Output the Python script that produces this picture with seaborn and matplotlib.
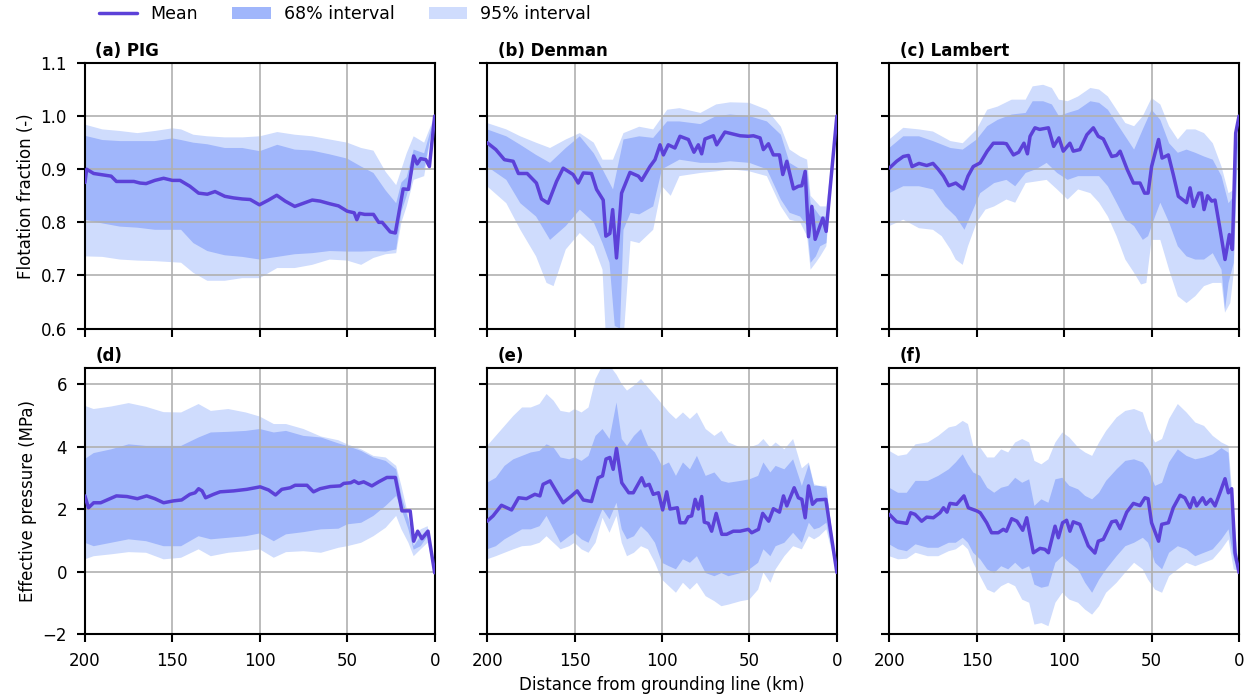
import numpy as np
import matplotlib
matplotlib.use("Agg")
import matplotlib.pyplot as plt
from matplotlib.lines import Line2D
from matplotlib.patches import Patch
import seaborn as sns

sns.set_style("ticks")
plt.rcParams['font.family'] = ['DejaVu Sans']
plt.rcParams['font.size'] = 12
for k in ['text.color', 'axes.labelcolor', 'xtick.color', 'ytick.color', 'axes.edgecolor']:
    plt.rcParams[k] = 'black'

# colours
col_mean = '#5c41d8'
col_68 = '#a0b6fb'
col_95 = '#cfdcfd'

titles = ['(a) PIG', '(b) Denman', '(c) Lambert', '(d)', '(e)', '(f)']
xticks = [200, 150, 100, 50, 0]

# ---------- (a) PIG, flotation fraction ----------
a_mean = [(200, 0.875), (199, 0.90), (195, 0.892), (185, 0.887), (182, 0.877), (172, 0.877),
          (168.5, 0.874), (165, 0.873), (160, 0.879), (155, 0.883), (150, 0.879), (145.6, 0.879),
          (140, 0.868), (135, 0.855), (130, 0.853), (125.6, 0.858), (120, 0.849), (115, 0.846),
          (110, 0.844), (105.5, 0.843), (100.2, 0.833), (95, 0.842), (90.3, 0.851), (85.5, 0.840),
          (80, 0.830), (75, 0.836), (70, 0.842), (65.5, 0.840), (60, 0.835), (55, 0.831),
          (50, 0.821), (46, 0.818), (44.5, 0.805), (43, 0.817), (40, 0.815), (35, 0.815),
          (32, 0.80), (30, 0.80), (25.4, 0.782), (22.5, 0.78), (18, 0.863), (15, 0.862),
          (12, 0.925), (10, 0.91), (8, 0.92), (5, 0.918), (3, 0.905), (0, 1.0)]
a_x = [200, 190, 180, 170, 160, 150, 145, 138, 130, 120, 110, 100, 90, 80, 70, 60, 50, 42,
       35, 28, 22, 19, 16, 12, 6, 0]
a_hi95 = [0.984, 0.975, 0.972, 0.968, 0.972, 0.977, 0.975, 0.965, 0.962, 0.96, 0.96, 0.962,
          0.97, 0.965, 0.962, 0.956, 0.95, 0.94, 0.935, 0.895, 0.87, 0.9, 0.93, 0.962, 0.95, 1.0]
a_hi68 = [0.963, 0.955, 0.953, 0.953, 0.953, 0.958, 0.955, 0.95, 0.947, 0.94, 0.94, 0.934,
          0.946, 0.937, 0.935, 0.928, 0.92, 0.905, 0.893, 0.86, 0.836, 0.875, 0.885, 0.937, 0.93, 1.0]
a_lo68 = [0.805, 0.798, 0.792, 0.79, 0.786, 0.786, 0.786, 0.761, 0.746, 0.738, 0.735, 0.73,
          0.735, 0.74, 0.742, 0.746, 0.745, 0.745, 0.746, 0.745, 0.749, 0.82, 0.85, 0.9, 0.9, 1.0]
a_lo95 = [0.736, 0.735, 0.73, 0.728, 0.727, 0.725, 0.724, 0.705, 0.69, 0.69, 0.695, 0.695,
          0.714, 0.714, 0.72, 0.73, 0.728, 0.72, 0.733, 0.74, 0.742, 0.8, 0.83, 0.88, 0.887, 1.0]

# ---------- (b) Denman, flotation fraction ----------
b_mean = [(200, 0.95), (195, 0.937), (190.1, 0.918), (185.1, 0.915), (182.1, 0.892), (177.1, 0.892),
          (171.8, 0.874), (168.9, 0.844), (165.1, 0.836), (160.3, 0.877), (156.5, 0.902),
          (150.8, 0.89), (147.9, 0.874), (145, 0.893), (140.3, 0.892), (137.4, 0.862),
          (133.6, 0.842), (132.1, 0.774), (129.8, 0.779), (128.2, 0.824), (126, 0.733),
          (123.1, 0.855), (118.3, 0.894), (113.5, 0.887), (111.6, 0.879), (106.9, 0.905),
          (104, 0.918), (101.1, 0.946), (99.2, 0.927), (96.4, 0.946), (92.6, 0.94), (89.7, 0.962),
          (84.9, 0.956), (81.7, 0.932), (79.2, 0.946), (77.3, 0.929), (75.4, 0.957), (70.6, 0.963),
          (68.7, 0.946), (64, 0.97), (55.3, 0.963), (50.6, 0.962), (47.7, 0.963), (43.9, 0.959),
          (42, 0.937), (39.1, 0.948), (36.3, 0.927), (32.8, 0.927), (30.9, 0.89), (28.6, 0.915),
          (24.8, 0.863), (22, 0.868), (20, 0.869), (18.1, 0.896), (16.2, 0.773), (14.3, 0.83),
          (12.4, 0.768), (8, 0.808), (6.1, 0.783), (0, 1.0)]
b_hi95 = [(200, 0.987), (189, 0.975), (181, 0.962), (172, 0.95), (164, 0.94), (155, 0.956),
          (147, 0.968), (139, 0.95), (134, 0.918), (128, 0.918), (122, 0.968), (113, 0.98),
          (105, 0.975), (97, 1.012), (90, 1.015), (78, 1.006), (69, 1.022), (61, 1.026),
          (50, 1.025), (40, 1.012), (32, 0.98), (27, 0.937), (21, 0.924), (17, 0.918),
          (15, 0.85), (9.5, 0.83), (6, 0.83), (0, 1.0)]
b_hi68 = [(200, 0.975), (189, 0.962), (181, 0.946), (172, 0.927), (164, 0.912), (155, 0.94),
          (147, 0.962), (139, 0.93), (134, 0.9), (128, 0.862), (122, 0.956), (113, 0.962),
          (105, 0.959), (97, 0.99), (90, 0.99), (78, 0.985), (69, 1.0), (61, 1.003),
          (50, 1.0), (40, 0.99), (32, 0.965), (27, 0.912), (21, 0.9), (17, 0.9),
          (15, 0.836), (9.5, 0.811), (6, 0.811), (0, 1.0)]
b_lo68 = [(200, 0.905), (189, 0.88), (181, 0.836), (172, 0.811), (164, 0.767), (155, 0.793),
          (147, 0.824), (139, 0.8), (134, 0.761), (130, 0.724), (127, 0.605), (124, 0.6),
          (122, 0.786), (118, 0.818), (113, 0.815), (105, 0.83), (100, 0.9), (90, 0.918),
          (78, 0.912), (69, 0.912), (61, 0.915), (50, 0.912), (40, 0.9), (32, 0.843),
          (27, 0.818), (21, 0.811), (17, 0.793), (15, 0.724), (12, 0.736), (9.5, 0.755),
          (6, 0.761), (0, 1.0)]
b_lo95 = [(200, 0.868), (189, 0.836), (181, 0.786), (172, 0.736), (166, 0.686), (162, 0.68),
          (155, 0.749), (147, 0.78), (139, 0.755), (134, 0.711), (132, 0.58), (122, 0.58),
          (118, 0.765), (113, 0.761), (105, 0.786), (100, 0.868), (95, 0.85), (90, 0.887),
          (78, 0.893), (69, 0.896), (61, 0.9), (50, 0.896), (40, 0.887), (32, 0.83),
          (27, 0.805), (21, 0.8), (17, 0.774), (15, 0.711), (12, 0.724), (9.5, 0.736),
          (6, 0.755), (0, 1.0)]

# ---------- (c) Lambert, flotation fraction ----------
c_mean = [(200, 0.902), (195.8, 0.915), (192, 0.924), (189, 0.926), (187, 0.905), (183, 0.911),
          (178.6, 0.907), (175, 0.911), (172, 0.9), (169, 0.887), (166, 0.869), (162, 0.874),
          (157.7, 0.863), (155, 0.887), (152, 0.905), (148, 0.912), (144, 0.934), (140.5, 0.949),
          (134.8, 0.949), (133, 0.948), (129, 0.927), (126, 0.932), (123, 0.949), (121, 0.929),
          (119.5, 0.962), (116.7, 0.978), (114, 0.975), (109, 0.978), (106, 0.943), (103, 0.959),
          (100.5, 0.934), (96.7, 0.949), (94.8, 0.934), (91, 0.937), (87, 0.965), (83.3, 0.978),
          (80.5, 0.962), (77.6, 0.957), (72.8, 0.924), (70, 0.926), (68, 0.934), (64, 0.9),
          (60.4, 0.874), (56.6, 0.874), (54, 0.855), (52, 0.855), (50, 0.905), (46, 0.956),
          (44, 0.921), (40.4, 0.927), (37.6, 0.89), (34.7, 0.849), (30, 0.837), (28, 0.865),
          (26, 0.83), (23, 0.855), (21.4, 0.855), (20, 0.824), (18, 0.85), (15.6, 0.84),
          (13.7, 0.842), (11, 0.79), (8, 0.73), (5.5, 0.777), (3.8, 0.749), (1.9, 0.968), (0, 1.0)]
c_hi95 = [(200, 0.956), (192, 0.978), (183, 0.975), (175, 0.971), (165, 0.953), (158, 0.949),
          (150, 0.975), (144, 1.012), (138, 1.018), (130, 1.031), (122, 1.031), (118, 1.056),
          (112, 1.059), (107, 1.053), (103, 1.031), (98, 1.028), (92, 1.037), (85, 1.053),
          (80, 1.05), (75, 1.037), (70, 1.012), (65, 0.987), (60, 0.981), (55, 1.0), (50, 1.034),
          (45, 1.022), (40, 0.981), (35, 0.956), (30, 0.975), (25, 0.975), (20, 0.968),
          (15, 0.949), (10, 0.905), (6, 0.855), (3, 0.861), (0, 1.0)]
c_hi68 = [(200, 0.94), (192, 0.962), (183, 0.962), (175, 0.953), (165, 0.94), (158, 0.937),
          (150, 0.956), (144, 0.981), (138, 0.993), (130, 1.003), (122, 1.006), (118, 1.028),
          (112, 1.028), (107, 1.022), (103, 1.0), (98, 1.006), (92, 1.012), (85, 1.028),
          (80, 1.025), (75, 1.012), (70, 0.987), (65, 0.962), (60, 0.937), (55, 0.975),
          (50, 1.012), (45, 0.993), (40, 0.949), (35, 0.931), (30, 0.937), (25, 0.931),
          (20, 0.924), (15, 0.918), (10, 0.887), (6, 0.836), (3, 0.849), (0, 1.0)]
c_lo68 = [(200, 0.855), (192, 0.868), (183, 0.868), (175, 0.862), (168, 0.83), (162, 0.811),
          (157, 0.786), (152, 0.824), (148, 0.855), (140, 0.874), (133, 0.88), (128, 0.868),
          (122, 0.893), (116, 0.9), (110, 0.912), (104, 0.893), (98, 0.88), (92, 0.887),
          (85, 0.887), (80, 0.887), (75, 0.868), (70, 0.837), (65, 0.805), (60, 0.793),
          (55, 0.767), (52, 0.774), (48, 0.811), (45, 0.837), (40, 0.8), (35, 0.755), (30, 0.736),
          (25, 0.73), (20, 0.73), (15, 0.742), (10, 0.711), (8, 0.636), (6, 0.686), (3, 0.724),
          (0, 1.0)]
c_lo95 = [(200, 0.793), (192, 0.805), (183, 0.789), (175, 0.786), (170, 0.774), (165, 0.749),
          (162, 0.73), (158, 0.72), (155, 0.755), (150, 0.8), (145, 0.824), (140, 0.83),
          (133, 0.843), (128, 0.837), (122, 0.874), (116, 0.877), (110, 0.88), (104, 0.862),
          (98, 0.843), (92, 0.862), (85, 0.855), (80, 0.837), (75, 0.811), (70, 0.774),
          (65, 0.73), (60, 0.705), (56, 0.683), (53, 0.686), (50, 0.767), (45, 0.767), (40, 0.711),
          (35, 0.661), (30, 0.648), (25, 0.661), (20, 0.68), (15, 0.686), (10, 0.686), (8, 0.63),
          (5, 0.648), (3, 0.705), (0, 1.0)]

# ---------- (d) PIG, effective pressure ----------
d_mean = [(200, 2.42), (198, 2.04), (195, 2.2), (191, 2.2), (185.7, 2.33), (182, 2.42), (176, 2.4),
          (170, 2.33), (164.7, 2.42), (160, 2.33), (155, 2.2), (149.4, 2.26), (144.7, 2.29),
          (140, 2.47), (137, 2.52), (135, 2.65), (133, 2.58), (131, 2.36), (126.5, 2.47),
          (122.7, 2.55), (115, 2.58), (107.4, 2.63), (99.8, 2.71), (95, 2.61), (91, 2.45),
          (87.4, 2.63), (82.6, 2.68), (79.8, 2.76), (73, 2.76), (69.3, 2.55), (65.5, 2.65),
          (59.7, 2.72), (54, 2.74), (52, 2.82), (48, 2.84), (46, 2.9), (43.5, 2.82), (40.6, 2.87),
          (35.9, 2.74), (32, 2.87), (27.3, 3.01), (22.5, 3.01), (18.7, 1.94), (14, 1.94),
          (12, 0.97), (9.7, 1.29), (7.3, 1.05), (3.8, 1.29), (0, -0.04)]
d_x = [200, 195, 185, 175, 165, 155, 145, 135, 128, 118, 108, 100, 92, 85, 75, 65, 55, 50,
       42, 35, 28, 22, 19, 15, 12, 8, 4, 0]
d_hi95 = [5.3, 5.2, 5.28, 5.39, 5.27, 5.1, 5.09, 5.36, 5.14, 5.2, 5.09, 4.96, 4.72, 4.72,
          4.56, 4.32, 4.2, 4.07, 3.91, 3.7, 3.65, 3.38, 2.74, 1.78, 0.92, 1.35, 1.45, 0.0]
d_hi68 = [3.6, 3.79, 3.91, 4.07, 4.02, 4.02, 4.02, 4.29, 4.45, 4.47, 4.5, 4.56, 4.45, 4.5,
          4.34, 4.29, 4.1, 4.02, 3.86, 3.65, 3.54, 3.27, 2.42, 1.67, 0.81, 1.13, 1.35, 0.0]
d_lo68 = [0.92, 0.81, 0.92, 1.03, 0.97, 0.81, 0.81, 1.13, 1.03, 1.08, 1.13, 1.22, 0.97, 1.19,
          1.26, 1.35, 1.37, 1.51, 1.56, 1.78, 2.1, 2.42, 2.0, 1.35, 0.7, 0.81, 1.13, 0.0]
d_lo95 = [0.39, 0.49, 0.55, 0.62, 0.6, 0.39, 0.44, 0.71, 0.49, 0.6, 0.65, 0.71, 0.44, 0.62,
          0.65, 0.6, 0.76, 0.81, 0.92, 1.13, 1.4, 1.78, 1.35, 0.92, 0.49, 0.71, 0.92, 0.0]

# ---------- (e) Denman, effective pressure ----------
e_mean = [(200, 1.61), (196.6, 1.78), (191.8, 2.12), (186, 1.97), (182, 2.36), (177.5, 2.33),
          (172.7, 2.47), (169.8, 2.42), (168, 2.79), (164, 2.9), (160, 2.52), (156.5, 2.2),
          (151.7, 2.42), (148.5, 2.58), (145, 2.29), (140.3, 2.24), (136.5, 3.0), (134, 3.06),
          (132, 3.6), (129.8, 3.65), (127.9, 3.27), (126, 3.94), (123, 2.84), (119, 2.52),
          (116.4, 2.52), (111.6, 3.0), (109.7, 2.74), (107.3, 2.79), (105, 2.47), (102, 2.52),
          (99.6, 1.97), (97.3, 2.55), (95.4, 2.0), (91.2, 2.04), (89.7, 1.56), (86.8, 1.56),
          (85, 1.75), (83, 1.78), (81, 2.31), (79.2, 2.0), (77.3, 2.4), (75.8, 1.58), (73.5, 1.54),
          (71.6, 1.29), (69, 1.86), (65.8, 1.19), (63, 1.19), (59.2, 1.29), (55.3, 1.29),
          (50.6, 1.35), (48.7, 1.24), (44.8, 1.35), (42.4, 1.86), (39, 1.61), (36.3, 2.01),
          (32.8, 1.9), (30.5, 2.42), (28.6, 2.1), (24.4, 2.68), (22, 2.36), (20, 2.31),
          (18.1, 1.72), (16.2, 2.74), (13.9, 2.15), (11.5, 2.29), (6.3, 2.31), (0, -0.03)]
e_x = [200, 195, 190, 185, 180, 175, 170, 166, 162, 158, 153, 150, 146, 142, 138, 134, 130,
       126, 123, 120, 116, 112, 108, 104, 100, 96, 92, 88, 84, 80, 75, 70, 66, 62, 55, 50,
       45, 42, 38, 35, 30, 25, 20, 16, 13, 10, 6, 0]
e_hi95 = [4.02, 4.34, 4.66, 4.98, 5.25, 5.25, 5.36, 5.68, 5.47, 5.14, 5.09, 5.2, 5.09, 5.25,
          6.16, 6.6, 6.6, 6.3, 6.0, 5.79, 5.95, 6.16, 5.89, 5.63, 5.36, 5.09, 4.88, 5.09, 4.88,
          5.09, 4.56, 4.34, 4.5, 4.13, 3.97, 3.97, 4.07, 4.24, 3.97, 4.13, 3.91, 4.24, 3.3,
          3.49, 2.79, 2.74, 2.74, 0.0]
e_hi68 = [2.84, 3.0, 3.38, 3.59, 3.7, 3.81, 3.86, 4.07, 3.97, 3.65, 3.59, 3.65, 3.54, 3.7,
          4.34, 4.56, 4.24, 5.41, 4.24, 4.02, 4.34, 4.56, 4.02, 3.81, 3.38, 3.49, 3.06, 3.49,
          3.27, 3.7, 3.06, 3.17, 2.9, 2.84, 2.9, 2.95, 3.06, 3.49, 3.17, 3.38, 3.27, 3.59,
          2.74, 3.43, 2.74, 2.74, 2.68, 0.0]
e_lo68 = [0.71, 0.81, 1.03, 1.19, 1.35, 1.35, 1.45, 1.78, 1.35, 0.92, 1.13, 1.24, 1.03, 0.92,
          1.45, 2.0, 1.67, 2.2, 1.35, 1.03, 1.13, 1.45, 1.24, 0.92, 0.28, 0.17, 0.07, 0.39,
          0.28, 0.49, -0.05, -0.15, -0.05, -0.15, -0.05, 0.07, 0.28, 0.71, 0.49, 0.81, 0.92,
          1.24, 0.92, 1.56, 1.35, 1.4, 1.56, 0.0]
e_lo95 = [0.39, 0.49, 0.6, 0.71, 0.81, 0.83, 0.92, 1.13, 0.92, 0.71, 0.81, 0.92, 0.71, 0.6,
          0.92, 1.72, 1.24, 1.78, 0.92, 0.49, 0.6, 0.81, 0.71, 0.28, -0.26, -0.47, -0.68, -0.36,
          -0.58, -0.36, -0.79, -0.95, -1.11, -1.06, -0.95, -0.9, -0.58, -0.03, -0.36, 0.07,
          0.49, 0.81, 0.71, 1.13, 1.03, 1.13, 1.35, 0.0]

# ---------- (f) Lambert, effective pressure ----------
f_mean = [(200, 1.83), (195.8, 1.59), (190, 1.54), (187.8, 1.88), (185.3, 1.83), (181.5, 1.61),
          (178.6, 1.74), (174.8, 1.72), (171, 1.88), (169, 2.04), (167, 1.9), (165.3, 2.18),
          (161.5, 2.15), (157.3, 2.42), (154.8, 2.04), (150, 1.94), (148, 1.88), (144.3, 1.56),
          (141.5, 1.24), (137.7, 1.24), (134.8, 1.35), (133, 1.29), (130, 1.69), (127, 1.61),
          (123.7, 1.32), (121.4, 1.72), (117.6, 0.6), (113.8, 0.74), (111, 0.71), (109, 0.6),
          (105.2, 1.45), (103.3, 1.08), (100.9, 1.56), (98.6, 1.64), (96.7, 1.29), (94.8, 1.59),
          (91, 1.51), (86.2, 0.82), (82.4, 0.59), (80.5, 0.97), (77.6, 1.03), (72.8, 1.59),
          (70.3, 1.62), (68, 1.37), (64.2, 1.9), (60.4, 2.18), (56.6, 2.11), (53.8, 2.36),
          (52, 2.33), (50, 1.56), (46, 0.97), (44.2, 1.51), (40.4, 1.56), (37.6, 2.04),
          (33.7, 2.44), (31, 2.36), (28, 2.04), (26, 2.36), (24.2, 2.1), (20.8, 2.36),
          (18.9, 2.15), (16.2, 2.31), (13.7, 2.1), (10.9, 2.52), (8, 2.97), (6.1, 2.52),
          (4.2, 2.65), (2.3, 0.6), (0, -0.03)]
f_x = [200, 195, 190, 185, 178, 172, 166, 162, 158, 155, 152, 148, 144, 140, 136, 132, 128,
       124, 120, 117, 113, 109, 105, 101, 97, 92, 88, 84, 80, 76, 70, 65, 60, 55, 52, 48, 44,
       40, 35, 30, 25, 20, 15, 10, 6, 3, 0]
f_hi95 = [3.86, 3.7, 3.75, 4.07, 4.13, 4.34, 4.61, 4.66, 4.82, 4.72, 4.02, 3.97, 3.65, 3.65,
          3.91, 3.81, 4.13, 4.24, 4.13, 3.54, 3.43, 3.59, 4.13, 4.45, 4.29, 3.97, 3.81, 3.7,
          4.13, 4.5, 4.93, 5.14, 5.2, 5.09, 4.56, 4.13, 4.24, 4.88, 5.36, 5.09, 4.77, 4.66,
          4.34, 4.13, 4.02, 1.88, 0.0]
f_hi68 = [2.68, 2.52, 2.52, 2.9, 2.9, 3.06, 3.27, 3.49, 3.75, 3.43, 3.17, 3.06, 2.68, 2.52,
          2.68, 2.74, 3.0, 2.84, 2.95, 2.1, 2.31, 2.2, 2.95, 3.0, 2.74, 2.63, 2.42, 2.31, 2.52,
          2.9, 3.27, 3.54, 3.59, 3.49, 3.27, 2.74, 2.84, 3.49, 3.91, 3.7, 3.59, 3.65, 3.75,
          3.95, 3.8, 1.35, 0.0]
f_lo68 = [0.87, 0.71, 0.65, 0.87, 0.76, 0.76, 0.92, 0.92, 1.08, 0.92, 0.6, 0.39, 0.07, -0.05,
          0.17, 0.07, 0.28, 0.07, 0.17, -0.42, -0.52, -0.47, 0.28, 0.49, 0.28, 0.07, -0.36,
          -0.68, -0.26, 0.07, 0.49, 0.81, 0.92, 1.08, 0.92, 0.28, 0.07, 0.6, 0.81, 0.71, 0.49,
          0.6, 0.71, 1.03, 1.35, 0.39, 0.0]
f_lo95 = [0.49, 0.39, 0.41, 0.6, 0.49, 0.49, 0.65, 0.71, 0.87, 0.71, 0.28, -0.15, -0.58, -0.68,
          -0.47, -0.36, -0.47, -0.9, -1.0, -1.7, -1.65, -1.75, -1.0, -0.68, -0.9, -1.0, -1.22,
          -1.38, -1.11, -0.68, -0.36, -0.03, 0.28, 0.07, -0.26, -0.58, -0.68, -0.15, 0.07, 0.28,
          0.17, 0.28, 0.39, 0.71, 1.03, 0.07, 0.0]


def pairs(p):
    p = np.array(p, dtype=float)
    return p[:, 0], p[:, 1]


def band(ax, upper, lower, color):
    xu, yu = pairs(upper)
    xl, yl = pairs(lower)
    ax.fill(np.r_[xu, xl[::-1]], np.r_[yu, yl[::-1]], color=color, lw=0)


def grid_bands(x, hi95, hi68, lo68, lo95):
    return (list(zip(x, hi95)), list(zip(x, hi68)), list(zip(x, lo68)), list(zip(x, lo95)))


panels = [
    (a_mean,) + grid_bands(a_x, a_hi95, a_hi68, a_lo68, a_lo95),
    (b_mean, b_hi95, b_hi68, b_lo68, b_lo95),
    (c_mean, c_hi95, c_hi68, c_lo68, c_lo95),
    (d_mean,) + grid_bands(d_x, d_hi95, d_hi68, d_lo68, d_lo95),
    (e_mean,) + grid_bands(e_x, e_hi95, e_hi68, e_lo68, e_lo95),
    (f_mean,) + grid_bands(f_x, f_hi95, f_hi68, f_lo68, f_lo95),
]

fig, axes = plt.subplots(2, 3, figsize=(12.49, 6.97), dpi=100, sharex=True, sharey='row')
fig.subplots_adjust(left=0.068, right=0.992, bottom=0.0904, top=0.9096, wspace=0.15, hspace=0.15)

for i, ax in enumerate(axes.flat):
    mean, hi95, hi68, lo68, lo95 = panels[i]
    band(ax, hi95, lo95, col_95)
    band(ax, hi68, lo68, col_68)
    mx, my = pairs(mean)
    sns.lineplot(x=mx, y=my, ax=ax, color=col_mean, lw=2.5, estimator=None, sort=False, zorder=3)
    ax.set_axisbelow('line')
    ax.grid(True, color='#b0b0b0', lw=1.2)
    for s in ax.spines.values():
        s.set_linewidth(1.5)
        s.set_color('black')
    ax.tick_params(width=1.5, length=5.5, pad=7.5, labelsize=12, color='black')
    ax.text(0.03, 1.012, titles[i], transform=ax.transAxes, fontsize=12,
            fontweight='bold', va='bottom', ha='left')

axes[0, 0].set_xlim(200, 0)
axes[0, 0].set_xticks(xticks)
axes[0, 0].set_ylim(0.6, 1.1)
axes[0, 0].set_yticks([0.6, 0.7, 0.8, 0.9, 1.0, 1.1])
axes[1, 0].set_ylim(-2, 6.5)
axes[1, 0].set_yticks([-2, 0, 2, 4, 6])
axes[0, 0].set_ylabel('Flotation fraction (-)', fontsize=12)
axes[1, 0].set_ylabel('Effective pressure (MPa)', fontsize=12)
axes[1, 1].set_xlabel('Distance from grounding line (km)', fontsize=12)

handles = [Line2D([], [], color=col_mean, lw=2.5),
           Patch(facecolor=col_68, edgecolor='none'),
           Patch(facecolor=col_95, edgecolor='none')]
fig.legend(handles, ['Mean', '68% interval', '95% interval'], loc='upper left',
           bbox_to_anchor=(0.0667, 1.015), ncol=3, frameon=False, fontsize=12.5,
           handlelength=2.2, handletextpad=0.75, columnspacing=2.0)

fig.savefig('out.png', dpi=100)
